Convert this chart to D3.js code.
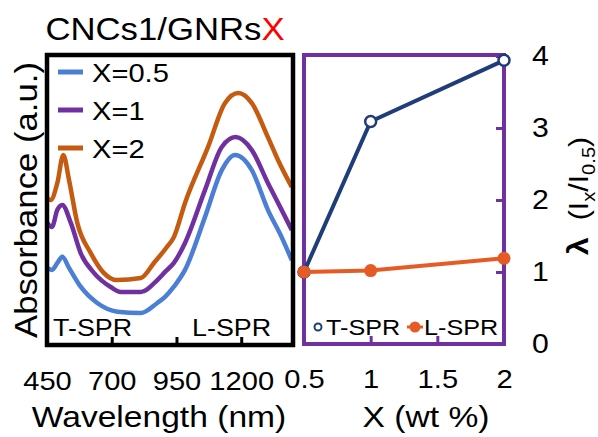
<!doctype html>
<html>
    <head>
        <meta charset="utf-8">
        <title>CNCs1/GNRsX</title>
        <script src="https://d3js.org/d3.v7.min.js"></script>
        <style type="text/css">
            body { margin:0; background:#fff; }
            text { font-family:"Liberation Sans", Arial, sans-serif; fill:#000; }
        </style>
    </head>
    <body>
      <svg></svg>
      <script type="text/javascript">

        let w = 598,
            h = 437,
            sx = 1.12; // the fonts in the picture are a bit wide

        // spectra, left panel
        let wavelength = [451, 469, 490, 509, 535, 580, 644, 722, 812, 876, 906, 940, 983, 1060, 1125, 1176, 1241, 1303, 1356, 1395];
        let absX05 = [0.266, 0.259, 0.283, 0.304, 0.266, 0.201, 0.145, 0.115, 0.110, 0.145, 0.166, 0.201, 0.259, 0.441, 0.603, 0.655, 0.603, 0.466, 0.372, 0.293];
        let wavelengthX1 = [451, 469, 490, 509, 542, 580, 632, 696, 735, 812, 876, 906, 940, 983, 1060, 1125, 1179, 1241, 1303, 1356, 1395];
        let absX1 = [0.421, 0.407, 0.466, 0.483, 0.421, 0.317, 0.248, 0.200, 0.183, 0.183, 0.224, 0.252, 0.283, 0.352, 0.534, 0.683, 0.717, 0.672, 0.559, 0.466, 0.397];
        let wavelengthX2 = [451, 464, 490, 513, 535, 567, 619, 670, 720, 812, 863, 913, 940, 983, 1072, 1137, 1189, 1241, 1303, 1342, 1395];
        let absX2 = [0.506, 0.500, 0.559, 0.655, 0.569, 0.421, 0.317, 0.248, 0.224, 0.231, 0.283, 0.338, 0.372, 0.490, 0.683, 0.834, 0.869, 0.834, 0.717, 0.638, 0.545];
        let seriesNames = ['X=0.5', 'X=1', 'X=2'];
        let seriesColors = ['#4a7fd4', '#7030a0', '#c55a11'];
        let wavelengthTicks = [450, 700, 950, 1200];

        // ratios, right panel
        let loading = [0.5, 1, 2];
        let tspr = [1.0, 3.09, 3.94];
        let lspr = [1.0, 1.02, 1.19];
        let loadingTicks = [0.5, 1, 1.5, 2];
        let ratioTicks = [0, 1, 2, 3, 4];

        let svg = d3.select('svg')
                    .attr('width', w)
                    .attr('height', h);

        function stretch(sel) {
            sel.each(function() {
                let t = d3.select(this);
                let x = +t.attr('x') || 0, y = +t.attr('y') || 0, r = t.attr('data-rot');
                t.attr('x', null).attr('y', null)
                 .attr('transform', 'translate(' + x + ',' + y + ')' + (r ? ' rotate(' + r + ')' : '') + ' scale(' + sx + ',1)');
            });
        }

        // ---------- left panel ----------
        let xScale = d3.scaleLinear().domain([450, 1400]).range([47, 293]);
        let yScale = d3.scaleLinear().domain([0, 1]).range([345, 55]);

        let spectra = [
            d3.zip(wavelength, absX05),
            d3.zip(wavelengthX1, absX1),
            d3.zip(wavelengthX2, absX2)
        ];
        let line = d3.line()
                     .x(function(d) { return xScale(d[0]); })
                     .y(function(d) { return yScale(d[1]); })
                     .curve(d3.curveMonotoneX);

        svg.selectAll('path.spec')
           .data(spectra)
           .enter()
           .append('path')
           .attr('class', 'spec')
           .attr('d', line)
           .attr('fill', 'none')
           .attr('stroke', function(d, i) { return seriesColors[i]; })
           .attr('stroke-width', 4.5)
           .attr('stroke-linejoin', 'round');

        let xAxis = d3.axisBottom(xScale)
                      .tickValues(wavelengthTicks)
                      .tickFormat(d3.format('d'))
                      .tickSizeInner(-8)
                      .tickSizeOuter(0)
                      .tickPadding(27);
        let gx = svg.append('g')
                    .attr('transform', 'translate(0,345)')
                    .call(xAxis);
        gx.select('.domain').remove();
        gx.selectAll('line').attr('stroke', '#000').attr('stroke-width', 3);
        gx.selectAll('text').attr('font-size', 26).attr('fill', '#000')
          .attr('transform', 'scale(' + sx + ',1)');

        svg.append('rect')
           .attr('x', xScale(450)).attr('y', yScale(1))
           .attr('width', xScale(1400) - xScale(450))
           .attr('height', yScale(0) - yScale(1))
           .attr('fill', 'none')
           .attr('stroke', '#000')
           .attr('stroke-width', 4.5);

        // legend
        let leg = svg.selectAll('g.leg')
                     .data(seriesNames)
                     .enter()
                     .append('g')
                     .attr('class', 'leg')
                     .attr('transform', function(d, i) { return 'translate(0,' + (72 + i * 38) + ')'; });
        leg.append('line')
           .attr('x1', 58).attr('x2', 83)
           .attr('stroke', function(d, i) { return seriesColors[i]; })
           .attr('stroke-width', 5);
        leg.append('text')
           .attr('x', 92).attr('y', 10)
           .attr('font-size', 26)
           .text(function(d) { return d; })
           .call(stretch);

        svg.append('text').attr('x', 53).attr('y', 336).attr('font-size', 24).text('T-SPR').call(stretch);
        svg.append('text').attr('x', 192).attr('y', 336).attr('font-size', 24).text('L-SPR').call(stretch);

        let title = svg.append('text')
                       .attr('x', 165).attr('y', 40)
                       .attr('font-size', 31)
                       .attr('text-anchor', 'middle');
        title.append('tspan').text('CNCs1/GNRs');
        title.append('tspan').style('fill', '#ff0000').text('X');
        title.call(stretch);

        svg.append('text')
           .attr('x', 37).attr('y', 200)
           .attr('data-rot', -90)
           .attr('font-size', 31)
           .attr('text-anchor', 'middle')
           .text('Absorbance (a.u.)')
           .call(stretch);

        svg.append('text')
           .attr('x', 159).attr('y', 427)
           .attr('font-size', 30)
           .attr('text-anchor', 'middle')
           .text('Wavelength (nm)')
           .call(stretch);

        // ---------- right panel ----------
        let x2 = d3.scaleLinear().domain([0.5, 2]).range([304, 504]);
        let y2 = d3.scaleLinear().domain([0, 4]).range([344, 56]);

        let gx2 = svg.append('g')
                     .attr('transform', 'translate(0,344)')
                     .call(d3.axisBottom(x2)
                             .tickValues(loadingTicks)
                             .tickFormat(d3.format(''))
                             .tickSizeInner(-8)
                             .tickSizeOuter(0)
                             .tickPadding(26));
        gx2.select('.domain').remove();
        gx2.selectAll('line').attr('stroke', '#7030a0').attr('stroke-width', 3);
        gx2.selectAll('text').attr('font-size', 26).attr('fill', '#000')
           .attr('transform', 'scale(' + sx + ',1)');

        let gy2 = svg.append('g')
                     .attr('transform', 'translate(504,0)')
                     .call(d3.axisRight(y2)
                             .tickValues(ratioTicks)
                             .tickFormat(d3.format('d'))
                             .tickSizeInner(-8)
                             .tickSizeOuter(0)
                             .tickPadding(25));
        gy2.select('.domain').remove();
        gy2.selectAll('line').attr('stroke', '#7030a0').attr('stroke-width', 3);
        gy2.selectAll('text').attr('font-size', 27).attr('fill', '#000')
           .attr('transform', 'scale(' + sx + ',1)');

        svg.append('rect')
           .attr('x', x2(0.5)).attr('y', y2(4) - 1)
           .attr('width', x2(2) - x2(0.5))
           .attr('height', y2(0) - y2(4) + 1)
           .attr('fill', 'none')
           .attr('stroke', '#7030a0')
           .attr('stroke-width', 4);

        let ratioLine = d3.line()
                          .x(function(d) { return x2(d[0]); })
                          .y(function(d) { return y2(d[1]); });

        let ratios = [
            { vals: d3.zip(loading, tspr), color: '#1f3d78', open: true, r: 5.5 },
            { vals: d3.zip(loading, lspr), color: '#e65a26', open: false, r: 6.5 }
        ];
        ratios.forEach(function(s) {
            svg.append('path')
               .attr('d', ratioLine(s.vals))
               .attr('fill', 'none')
               .attr('stroke', s.color)
               .attr('stroke-width', 4);
            svg.selectAll(null)
               .data(s.vals)
               .enter()
               .append('circle')
               .attr('cx', function(d) { return x2(d[0]); })
               .attr('cy', function(d) { return y2(d[1]); })
               .attr('r', s.r)
               .attr('fill', s.open ? '#fff' : s.color)
               .attr('stroke', s.color)
               .attr('stroke-width', s.open ? 2.5 : 0);
        });

        // legend inside right panel
        svg.append('circle').attr('cx', 318).attr('cy', 327).attr('r', 3.5)
           .attr('fill', '#fff').attr('stroke', '#1f3d78').attr('stroke-width', 2);
        svg.append('text').attr('x', 326).attr('y', 335).attr('font-size', 22.5).text('T-SPR').call(stretch);
        svg.append('line').attr('x1', 407).attr('x2', 423).attr('y1', 327).attr('y2', 327)
           .attr('stroke', '#e65a26').attr('stroke-width', 3);
        svg.append('circle').attr('cx', 415).attr('cy', 327).attr('r', 5.5).attr('fill', '#e65a26');
        svg.append('text').attr('x', 424).attr('y', 335).attr('font-size', 22.5).text('L-SPR').call(stretch);

        svg.append('text')
           .attr('x', 426).attr('y', 427)
           .attr('font-size', 30)
           .attr('text-anchor', 'middle')
           .text('X (wt %)')
           .call(stretch);

        let ylab = svg.append('text')
                      .attr('x', 588).attr('y', 196)
                      .attr('data-rot', -90)
                      .attr('font-size', 27)
                      .attr('text-anchor', 'middle');
        ylab.append('tspan').attr('font-weight', 'bold').attr('font-size', 29).text('λ');
        ylab.append('tspan').text('\u00a0 (I');
        ylab.append('tspan').attr('font-size', 18).attr('dy', 7).text('x');
        ylab.append('tspan').attr('dy', -7).text('/I');
        ylab.append('tspan').attr('font-size', 18).attr('dy', 7).text('0.5');
        ylab.append('tspan').attr('dy', -7).text(')');
        ylab.call(stretch);
        </script>
    </body>
</html>
